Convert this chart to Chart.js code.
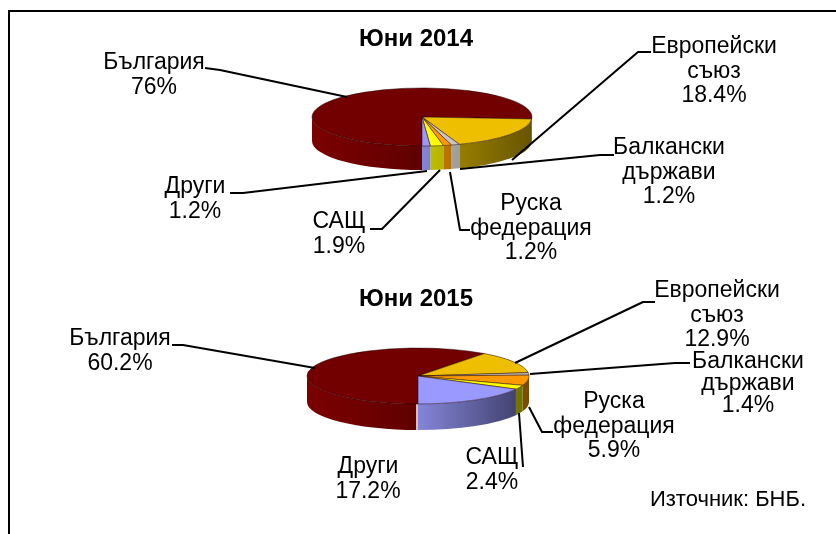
<!DOCTYPE html>
<html><head><meta charset="utf-8">
<script src="https://cdn.jsdelivr.net/npm/chart.js@4"></script>
<style>
html,body{margin:0;padding:0;background:#fff;overflow:hidden}
#page{position:relative;width:836px;height:534px;background:#fff;overflow:hidden}
#frame{position:absolute;left:8px;top:10px;right:0;bottom:0;border-left:2px solid #000;border-top:2px solid #000}
canvas{position:absolute;left:0}
</style></head>
<body><div id="page"><div id="frame"></div>
<canvas id="c1" width="836" height="262" style="top:0"></canvas>
<canvas id="c2" width="836" height="272" style="top:262px"></canvas>
</div>
<script>
// ---- data ----
const categories = ["България", "Европейски съюз", "Балкански държави", "Руска федерация", "САЩ", "Други"];
const values2014 = [76, 18.4, 1.2, 1.2, 1.9, 1.2];
const values2015 = [60.2, 12.9, 1.4, 5.9, 2.4, 17.2];
const title2014 = "Юни 2014";
const title2015 = "Юни 2015";
const sourceNote = "Източник: БНБ.";
// ---- style ----
const topColors  = ["#730000", "#eebf00", "#c8c4c4", "#ff9900", "#ffff00", "#9999ff"];
const wallLight  = ["#7c0000", "#b09300", "#b4b4b4", "#cc7f00", "#c4c400", "#8585d8"];
const wallDark   = ["#600000", "#665400", "#707070", "#7a4a00", "#6c6c00", "#3a3a64"];
const FONT = '23px "Liberation Sans", Arial, sans-serif';
const BOLD = 'bold 24px "Liberation Sans", Arial, sans-serif';
const NOTE = '22px "Liberation Sans", Arial, sans-serif';
const LH = 24.5;
const layout2014 = {
  top: 0, cx: 422, cy: 117, r: 110, k: 0.264, depth: 24, titleY: 39,
  labels: [
    {lines: ["България", "76%"], x: 154, y: 63},
    {lines: ["Европейски", "съюз", "18.4%"], x: 714, y: 47},
    {lines: ["Балкански", "държави", "1.2%"], x: 669, y: 148},
    {lines: ["Руска", "федерация", "1.2%"], x: 531, y: 204},
    {lines: ["САЩ", "1.9%"], x: 339, y: 222},
    {lines: ["Други", "1.2%"], x: 195, y: 187}
  ],
  leaders: [
    [[205,68],[220,70],[347,97]],
    [[651,52],[638,52],[512,160]],
    [[614,155],[600,155],[460,169]],
    [[470,230],[460,230],[450,172]],
    [[370,229],[382,229],[440,170]],
    [[230,193],[243,193],[427,171]]
  ]
};
const layout2015 = {
  top: 262, cx: 418, cy: 376, r: 111, k: 0.252, depth: 26, titleY: 299, wallGap: true,
  labels: [
    {lines: ["България", "60.2%"], x: 120, y: 339},
    {lines: ["Европейски", "съюз", "12.9%"], x: 717, y: 291},
    {lines: ["Балкански", "държави", "1.4%"], x: 748, y: 362, lh: 22},
    {lines: ["Руска", "федерация", "5.9%"], x: 614, y: 402},
    {lines: ["САЩ", "2.4%"], x: 492, y: 458},
    {lines: ["Други", "17.2%"], x: 368, y: 467}
  ],
  leaders: [
    [[172,345],[183,345],[315,368]],
    [[655,302],[643,302],[515,363]],
    [[690,363],[675,363],[530,374]],
    [[553,432],[542,432],[529,407]],
    [[523,467],[519,413]]
  ],
  note: {text: sourceNote, x: 728, y: 500}
};

const pie3d = {
  id: "pie3d",
  beforeDatasetsDraw(chart, args, o) {
    const g = o.geo, ctx = chart.ctx, cy = g.cy - g.top, cx = g.cx;
    const rx = chart.getDatasetMeta(0).data[0].outerRadius, ry = rx * g.k;
    const TWO = Math.PI * 2;
    chart.getDatasetMeta(0).data.forEach((arc, i) => {
      for (const s of [-TWO, 0, TWO]) {
        const p = Math.max(arc.startAngle + s, 0), q = Math.min(arc.endAngle + s, Math.PI);
        if (q <= p) continue;
        const x0 = cx + rx * Math.cos(q), x1 = cx + rx * Math.cos(p);
        // right of the centre the shading runs from the centre to the rim
        const grad = x1 > cx + 1
          ? ctx.createLinearGradient(cx, 0, cx + rx, 0)
          : ctx.createLinearGradient(x0, 0, x1, 0);
        grad.addColorStop(0, wallLight[i]);
        grad.addColorStop(1, wallDark[i]);
        ctx.beginPath();
        ctx.ellipse(cx, cy, rx, ry, 0, p, q);
        ctx.ellipse(cx, cy + g.depth, rx, ry, 0, q, p, true);
        ctx.closePath();
        ctx.fillStyle = grad;
        ctx.fill();
      }
    });
    if (g.wallGap) {
      ctx.strokeStyle = "#fff"; ctx.lineWidth = 1.5;
      ctx.beginPath(); ctx.moveTo(cx - 1, cy + ry); ctx.lineTo(cx - 1, cy + ry + g.depth); ctx.stroke();
    }
    ctx.save();
    ctx.translate(cx, cy); ctx.scale(1, g.k); ctx.translate(-cx, -cy);
  },
  afterDatasetsDraw(chart) { chart.ctx.restore(); },
  afterDraw(chart, args, o) {
    const g = o.geo, ctx = chart.ctx;
    ctx.save();
    ctx.translate(0, -g.top);
    ctx.strokeStyle = "#000"; ctx.lineWidth = 2; ctx.lineJoin = "round";
    g.leaders.forEach(pts => {
      ctx.beginPath();
      pts.forEach(([x, y], i) => i ? ctx.lineTo(x, y) : ctx.moveTo(x, y));
      ctx.stroke();
    });
    ctx.fillStyle = "#000"; ctx.textAlign = "center"; ctx.textBaseline = "middle";
    ctx.font = BOLD;
    ctx.fillText(o.title, 416, g.titleY);
    ctx.font = FONT;
    g.labels.forEach(l => l.lines.forEach((t, i) => ctx.fillText(t, l.x, l.y + i * (l.lh || LH))));
    if (g.note) { ctx.font = NOTE; ctx.fillText(g.note.text, g.note.x, g.note.y); }
    ctx.restore();
  }
};

function build(id, values, geo, title) {
  const el = document.getElementById(id);
  const b = 0.8, side = geo.r + b / 2;
  new Chart(el, {
    type: "pie",
    data: {labels: categories, datasets: [{data: values, backgroundColor: topColors,
      borderColor: "#200000", borderWidth: b, clip: false}]},
    plugins: [pie3d],
    options: {
      responsive: false, animation: false, rotation: 180,
      layout: {padding: {left: geo.cx - side, right: el.width - geo.cx - side,
        top: geo.cy - geo.top - side, bottom: el.height - (geo.cy - geo.top) - side}},
      plugins: {legend: {display: false}, tooltip: {enabled: false}, pie3d: {geo, title}}
    }
  });
}
build("c1", values2014, layout2014, title2014);
build("c2", values2015, layout2015, title2015);
</script></body></html>
